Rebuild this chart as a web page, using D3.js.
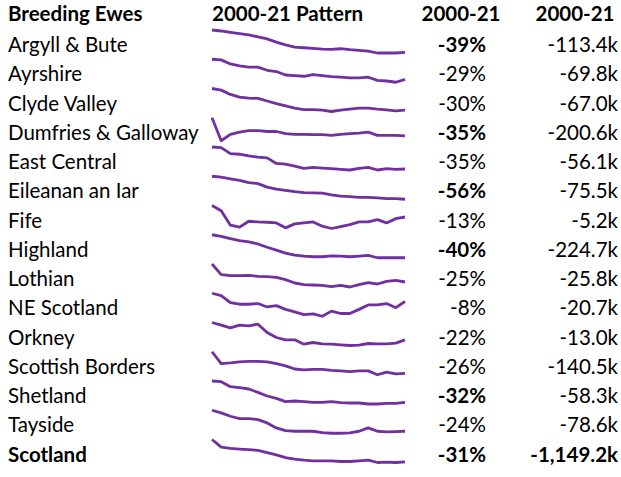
<!DOCTYPE html>
<html><head><meta charset="utf-8">
<script src="https://cdn.jsdelivr.net/npm/d3@7"></script>
<style>body{margin:0;background:#fff}text{font-family:Lato,"Noto Sans",sans-serif;font-size:20.5px;fill:#000}</style>
</head><body><svg id="c" width="621" height="477"></svg>
<script>
// region names, % change, absolute change (k), bold flags
const regions = ["Argyll & Bute","Ayrshire","Clyde Valley","Dumfries & Galloway","East Central","Eileanan an Iar","Fife","Highland","Lothian","NE Scotland","Orkney","Scottish Borders","Shetland","Tayside","Scotland"];
const pctChange = ["-39%","-29%","-30%","-35%","-35%","-56%","-13%","-40%","-25%","-8%","-22%","-26%","-32%","-24%","-31%"];
const absChange = ["-113.4k","-69.8k","-67.0k","-200.6k","-56.1k","-75.5k","-5.2k","-224.7k","-25.8k","-20.7k","-13.0k","-140.5k","-58.3k","-78.6k","-1,149.2k"];
const pctBold = [true,false,false,true,false,true,false,true,false,false,false,false,true,false,true];
const years = d3.range(2000, 2022);
// 2000-21 pattern, relative ewe level
const pattern = [
 [85,82,78,74,70,64,58,48,40,33,31,29,27,26,28,25,23,21,15,15,15,17],
 [97,95,82,76,72,72,62,58,47,45,43,48,45,42,40,38,38,40,30,28,24,33],
 [108,103,90,82,79,78,70,62,55,48,44,44,42,38,42,45,48,48,45,43,40,42],
 [120,48,68,75,80,80,77,77,70,68,68,67,67,65,68,70,72,75,65,65,65,63],
 [130,128,110,108,103,99,97,80,78,72,65,68,66,64,62,60,65,68,60,64,62,63],
 [78,75,70,65,58,55,44,38,34,30,27,26,25,20,16,14,12,12,10,8,8,6],
 [88,72,28,22,40,38,37,35,20,32,35,38,25,18,24,30,38,38,45,35,48,53],
 [100,95,88,82,78,72,62,53,44,38,35,33,33,36,35,33,35,37,30,30,30,30],
 [112,80,77,77,78,75,74,72,65,55,50,49,48,44,48,43,50,56,52,60,63,58],
 [122,115,95,90,90,92,82,86,75,68,60,62,55,70,63,63,75,88,88,92,80,98],
 [70,62,54,62,60,65,40,25,18,18,5,10,6,5,3,1,2,7,6,6,8,18],
 [82,45,47,50,52,52,50,45,38,28,25,27,27,24,22,20,22,22,10,18,13,14],
 [92,90,75,72,68,58,47,40,30,32,30,28,28,30,27,26,26,23,23,25,25,28],
 [103,95,85,78,78,75,65,50,42,40,40,40,36,34,34,35,40,50,40,38,39,40],
 [115,92,88,86,84,82,75,68,60,55,52,50,50,50,48,48,50,52,45,46,45,47]
];
const purple = "#7030A0";
const svg = d3.select("#c");
const rowH = 29.25, y0 = 45;
const rowY = i => y0 + i * rowH;
const x = d3.scaleLinear().domain(d3.extent(years)).range([212, 405]);

const hdr = svg.append("g").style("font-weight", "bold");
hdr.append("text").attr("x", 8).attr("y", 21).text("Breeding Ewes");
hdr.append("text").attr("x", 212).attr("y", 21).text("2000-21 Pattern");
hdr.append("text").attr("x", 461).attr("y", 21).attr("text-anchor", "middle").text("2000-21");
hdr.append("text").attr("x", 575).attr("y", 21).attr("text-anchor", "middle").text("2000-21");

regions.forEach((r, i) => {
  const cy = rowY(i), base = cy + 7;
  const last = i === regions.length - 1;
  svg.append("text").attr("x", 8).attr("y", base).style("font-weight", last ? "bold" : null).text(r);
  svg.append("text").attr("x", 486).attr("y", base).attr("text-anchor", "end")
    .style("font-weight", pctBold[i] ? "bold" : null).text(pctChange[i]);
  svg.append("text").attr("x", 618).attr("y", base).attr("text-anchor", "end")
    .style("font-weight", last ? "bold" : null).text(absChange[i]);
  const y = d3.scaleLinear().domain(d3.extent(pattern[i])).range([cy + 8, cy - 15]);
  svg.append("path").datum(pattern[i])
    .attr("fill", "none").attr("stroke", purple).attr("stroke-width", 2.8)
    .attr("stroke-linejoin", "round")
    .attr("d", d3.line().x((d, j) => x(years[j])).y(d => y(d)));
});
</script></body></html>
